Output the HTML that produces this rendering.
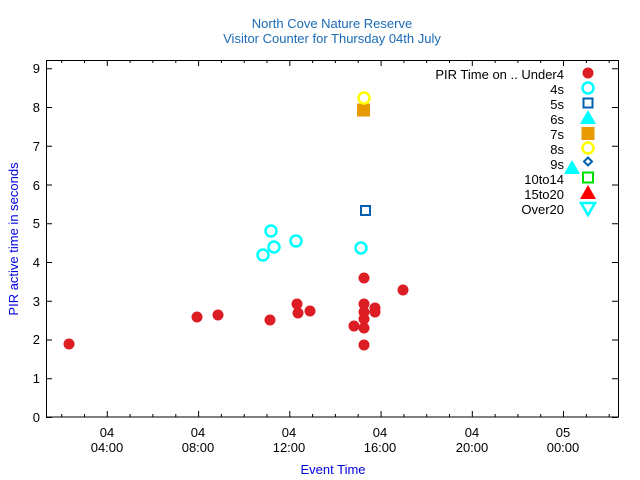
<!DOCTYPE html>
<html><head><meta charset="utf-8"><style>body{margin:0;background:#fff}svg{display:block}text{font-family:"Liberation Sans",sans-serif}</style></head><body>
<svg width="640" height="480" xmlns="http://www.w3.org/2000/svg">
<g fill="#1a6ab5" font-size="13" text-anchor="middle">
<text x="332" y="28">North Cove Nature Reserve</text>
<text x="332" y="43">Visitor Counter for Thursday 04th July</text>
</g>
<rect x="46.5" y="60.5" width="572" height="356.5" fill="none" stroke="#000" stroke-width="1"/>
<g stroke="#000" stroke-width="1" id="ticks">
<path d="M46 417.5h6M46 378.7h6M46 340h6M46 301.2h6M46 262.5h6M46 223.7h6M46 185h6M46 146.2h6M46 107.5h6M46 68.7h6
M618 417.5h-6M618 378.7h-6M618 340h-6M618 301.2h-6M618 262.5h-6M618 223.7h-6M618 185h-6M618 146.2h-6M618 107.5h-6M618 68.7h-6"/>
<path d="M61.7 417v-3M84.5 417v-3M107.3 417v-6M130.1 417v-3M152.9 417v-3M175.8 417v-3M198.6 417v-6M221.4 417v-3M244.2 417v-3M267.0 417v-3M289.8 417v-6M312.6 417v-3M335.4 417v-3M358.2 417v-3M381.1 417v-6M403.9 417v-3M426.7 417v-3M449.5 417v-3M472.3 417v-6M495.1 417v-3M517.9 417v-3M540.7 417v-3M563.5 417v-6M586.4 417v-3M609.2 417v-3
M61.7 60v3M84.5 60v3M107.3 60v6M130.1 60v3M152.9 60v3M175.8 60v3M198.6 60v6M221.4 60v3M244.2 60v3M267.0 60v3M289.8 60v6M312.6 60v3M335.4 60v3M358.2 60v3M381.1 60v6M403.9 60v3M426.7 60v3M449.5 60v3M472.3 60v6M495.1 60v3M517.9 60v3M540.7 60v3M563.5 60v6M586.4 60v3M609.2 60v3"/>
</g>
<g font-size="13" fill="#000" text-anchor="end">
<text x="40" y="422">0</text><text x="40" y="383">1</text><text x="40" y="344">2</text><text x="40" y="306">3</text><text x="40" y="267">4</text><text x="40" y="228">5</text><text x="40" y="190">6</text><text x="40" y="151">7</text><text x="40" y="112">8</text><text x="40" y="73">9</text>
</g>
<g font-size="13" fill="#000" text-anchor="middle">
<text x="107" y="437">04</text><text x="107" y="452">04:00</text>
<text x="198" y="437">04</text><text x="198" y="452">08:00</text>
<text x="289" y="437">04</text><text x="289" y="452">12:00</text>
<text x="380" y="437">04</text><text x="380" y="452">16:00</text>
<text x="472" y="437">04</text><text x="472" y="452">20:00</text>
<text x="563" y="437">05</text><text x="563" y="452">00:00</text>
</g>
<text x="333" y="474" font-size="13" fill="#0000e0" text-anchor="middle">Event Time</text>
<text transform="translate(18,239) rotate(-90)" font-size="13" fill="#0000e0" text-anchor="middle">PIR active time in seconds</text>
<g font-size="13" fill="#000" text-anchor="end">
<text x="564" y="79">PIR Time on .. Under4</text>
<text x="564" y="94">4s</text><text x="564" y="109">5s</text><text x="564" y="124">6s</text><text x="564" y="139">7s</text><text x="564" y="154">8s</text><text x="564" y="169">9s</text><text x="564" y="184">10to14</text><text x="564" y="199">15to20</text><text x="564" y="214">Over20</text>
</g>
<g fill="#dc1e24">
<circle cx="588" cy="73" r="5.5"/>
<circle cx="69" cy="344" r="5.5"/><circle cx="197" cy="317" r="5.5"/><circle cx="218" cy="315" r="5.5"/><circle cx="270" cy="320" r="5.5"/><circle cx="297" cy="304" r="5.5"/><circle cx="298" cy="313" r="5.5"/><circle cx="310" cy="311" r="5.5"/><circle cx="364" cy="278" r="5.5"/><circle cx="403" cy="290" r="5.5"/><circle cx="364" cy="304" r="5.5"/><circle cx="364" cy="312" r="5.5"/><circle cx="375" cy="308" r="5.5"/><circle cx="375" cy="312" r="5.5"/><circle cx="364" cy="319" r="5.5"/><circle cx="354" cy="326" r="5.5"/><circle cx="364" cy="328" r="5.5"/><circle cx="364" cy="345" r="5.5"/>
</g>
<g fill="none" stroke="#00ffff" stroke-width="2.5">
<circle cx="588" cy="88" r="5.5"/>
<circle cx="263" cy="255" r="5.5"/><circle cx="271" cy="231" r="5.5"/><circle cx="274" cy="247" r="5.5"/><circle cx="296" cy="241" r="5.5"/><circle cx="361" cy="248" r="5.5"/>
</g>
<g fill="none" stroke="#0060b0" stroke-width="2">
<rect x="583.5" y="98.5" width="9" height="9"/>
<rect x="361" y="206" width="9" height="9"/>
<path d="M588 157.5l4 4-4 4-4-4z"/>
</g>
<path d="M588 110l8 14h-16z" fill="#00ffff"/>
<path d="M572 160l8 14h-16z" fill="#00ffff"/>
<rect x="581.5" y="127" width="13" height="13" fill="#e69a00"/>
<rect x="357" y="103.5" width="13" height="13" fill="#e69a00"/>
<g fill="none" stroke="#ffff00" stroke-width="2.5">
<circle cx="588" cy="148" r="5.5"/><circle cx="364" cy="98" r="5.5"/>
</g>
<rect x="583" y="172.5" width="10" height="10" fill="none" stroke="#00e000" stroke-width="2"/>
<path d="M588 185l8 14h-16z" fill="#ff0000"/>
<path d="M581 203h14l-7 12z" fill="none" stroke="#00ffff" stroke-width="2.5"/>
</svg>
</body></html>
